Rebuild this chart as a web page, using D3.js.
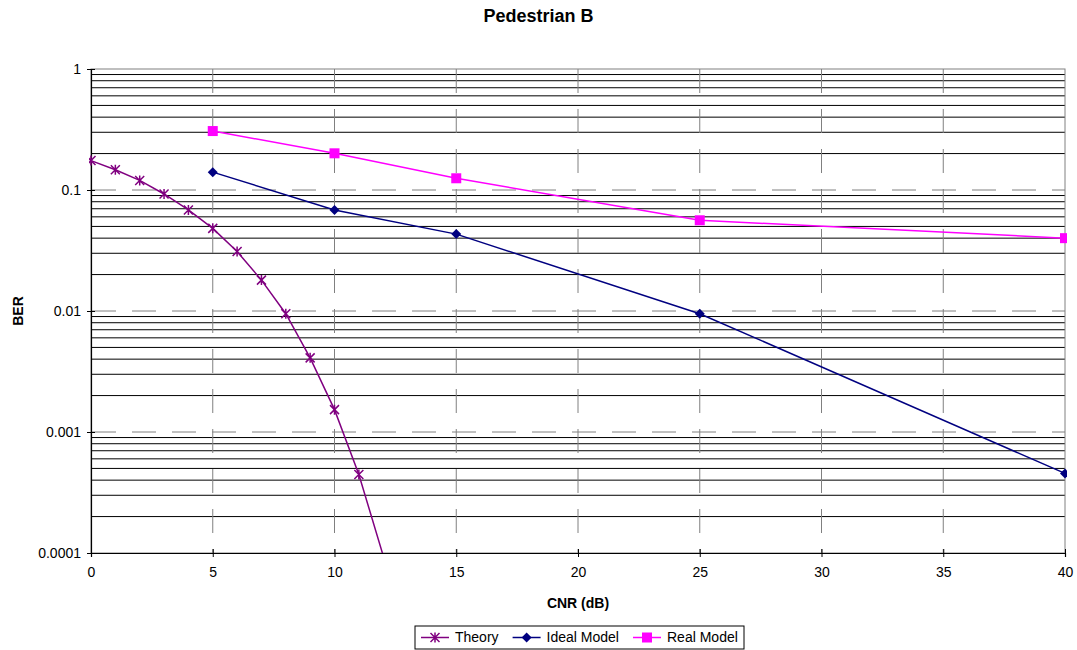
<!DOCTYPE html>
<html>
<head>
<meta charset="utf-8">
<script src="https://cdn.jsdelivr.net/npm/d3@7"></script>
<style>
  body { margin: 0; background: #fff; }
  svg text { font-family: "Liberation Sans", Arial, sans-serif; fill: #000; }
</style>
</head>
<body>
<div id="chart"></div>
<script>
// values
var theoryX = [0, 1, 2, 3, 4, 5, 6, 7, 8, 9, 10, 11, 12];
var theoryBer = [0.175, 0.147, 0.12, 0.0927, 0.0684, 0.0482, 0.031, 0.018, 0.0095, 0.0041, 0.00153, 0.000446, 0.000095];
var modelX = [5, 10, 15, 25, 40];
var idealBer = [0.1405, 0.0684, 0.0432, 0.0095, 0.000455];
var realBer = [0.307, 0.201, 0.125, 0.0562, 0.040];
var xTicks = [0, 5, 10, 15, 20, 25, 30, 35, 40];
var yTicks = [1, 0.1, 0.01, 0.001, 0.0001];
var yTickLabels = ["1", "0.1", "0.01", "0.001", "0.0001"];
var seriesNames = ["Theory", "Ideal Model", "Real Model"];
var seriesColors = ["#800080", "#000080", "#ff00ff"];

var width = 1077,
  height = 650,
  margin = {top: 69, right: 12, bottom: 97, left: 91};
var w = width - margin.left - margin.right,
  h = height - margin.top - margin.bottom;

var svg = d3.select("#chart").append("svg")
  .attr("width", width)
  .attr("height", height);

svg.append("text")
  .attr("x", width / 2)
  .attr("y", 22)
  .attr("text-anchor", "middle")
  .style("font-size", "18px")
  .style("font-weight", "bold")
  .text("Pedestrian B");

var g = svg.append("g")
  .attr("transform", "translate(" + margin.left + "," + margin.top + ")");

var x = d3.scaleLinear().domain([0, 40]).range([0, w]);
var y = d3.scaleLog().domain([0.0001, 1]).range([h, 0]);

// minor horizontal gridlines (2..9 of each decade)
var minor = [];
yTicks.slice(1).forEach(function (d) {
  for (var k = 2; k <= 9; k++) minor.push(d * k);
});
g.selectAll(".minor").data(minor).enter().append("line")
  .attr("x1", 0).attr("x2", w)
  .attr("y1", function (d) { return y(d); })
  .attr("y2", function (d) { return y(d); })
  .attr("stroke", "#000")
  .attr("stroke-width", 1);

// decade gridlines, dashed
g.selectAll(".major").data(yTicks.slice(1, 4)).enter().append("line")
  .attr("x1", 0).attr("x2", w)
  .attr("y1", function (d) { return y(d); })
  .attr("y2", function (d) { return y(d); })
  .attr("stroke", "#808080")
  .attr("stroke-dasharray", "24,16")
  .attr("stroke-dashoffset", -1);

// vertical gridlines, dashed from the top
g.selectAll(".vgrid").data(xTicks.slice(1, -1)).enter().append("line")
  .attr("x1", function (d) { return x(d); })
  .attr("x2", function (d) { return x(d); })
  .attr("y1", 0).attr("y2", h)
  .attr("stroke", "#808080")
  .attr("stroke-dasharray", "24,16");

// plot area border
g.append("rect")
  .attr("width", w).attr("height", h)
  .attr("fill", "none")
  .attr("stroke", "#808080");

// axes
var xAxis = g.append("g")
  .attr("transform", "translate(0," + h + ")")
  .call(d3.axisBottom(x).tickValues(xTicks).tickSize(4).tickPadding(10));
xAxis.selectAll(".tick line").attr("y1", -4);

var yAxis = g.append("g")
  .call(d3.axisLeft(y).tickValues(yTicks).tickSize(4).tickPadding(6)
    .tickFormat(function (d, i) { return yTickLabels[i]; }));
yAxis.selectAll(".tick line").attr("x1", 4);

[xAxis, yAxis].forEach(function (a) {
  a.select(".domain").attr("stroke", "#000").attr("stroke-width", 1.2);
  a.selectAll(".tick line").attr("stroke", "#000");
  a.selectAll(".tick text")
    .style("font-size", "14px")
    .style("font-family", "'Liberation Sans', Arial, sans-serif");
});

svg.append("text")
  .attr("x", margin.left + w / 2)
  .attr("y", 608)
  .attr("text-anchor", "middle")
  .style("font-size", "14px")
  .style("font-weight", "bold")
  .text("CNR (dB)");

svg.append("text")
  .attr("transform", "translate(23," + (margin.top + h / 2) + ") rotate(-90)")
  .attr("text-anchor", "middle")
  .style("font-size", "14px")
  .style("font-weight", "bold")
  .text("BER");

// series
svg.append("clipPath").attr("id", "plotclip")
  .append("rect").attr("x", -2).attr("y", -2).attr("width", w + 4).attr("height", h + 2);

var plot = g.append("g").attr("clip-path", "url(#plotclip)");

var line = d3.line()
  .x(function (d) { return x(d[0]); })
  .y(function (d) { return y(d[1]); });

var series = [
  d3.zip(theoryX, theoryBer),
  d3.zip(modelX, idealBer),
  d3.zip(modelX, realBer)
];

function drawMarker(sel, type, color) {
  if (type === 0) {
    sel.append("path")
      .attr("d", "M-4.5,-4.5L4.5,4.5M-4.5,4.5L4.5,-4.5M0,-5L0,5")
      .attr("stroke", color).attr("stroke-width", 1.5).attr("fill", "none");
  } else if (type === 1) {
    sel.append("path")
      .attr("d", "M0,-5L5,0L0,5L-5,0Z")
      .attr("fill", color);
  } else {
    sel.append("rect")
      .attr("x", -5).attr("y", -5).attr("width", 10).attr("height", 10)
      .attr("fill", color);
  }
}

series.forEach(function (data, i) {
  plot.append("path")
    .datum(data)
    .attr("d", line)
    .attr("fill", "none")
    .attr("stroke", seriesColors[i])
    .attr("stroke-width", 1.5);

  plot.selectAll(".m" + i)
    .data(data.filter(function (d) { return d[1] >= 0.0001; }))
    .enter().append("g")
    .attr("transform", function (d) { return "translate(" + x(d[0]) + "," + y(d[1]) + ")"; })
    .each(function () { drawMarker(d3.select(this), i, seriesColors[i]); });
});

// legend
var legend = svg.append("g").attr("transform", "translate(415,626)");
legend.append("rect")
  .attr("width", 329).attr("height", 23)
  .attr("fill", "#fff")
  .attr("stroke", "#000");

var itemX = [6, 97.6, 218];
seriesNames.forEach(function (name, i) {
  var it = legend.append("g").attr("transform", "translate(" + itemX[i] + ",11.5)");
  it.append("line")
    .attr("x1", 0).attr("x2", 28)
    .attr("stroke", seriesColors[i]).attr("stroke-width", 1.5);
  var m = it.append("g").attr("transform", "translate(14,0)");
  drawMarker(m, i, seriesColors[i]);
  it.append("text")
    .attr("x", 34)
    .attr("dy", "0.35em")
    .style("font-size", "14px")
    .text(name);
});
</script>
</body>
</html>
